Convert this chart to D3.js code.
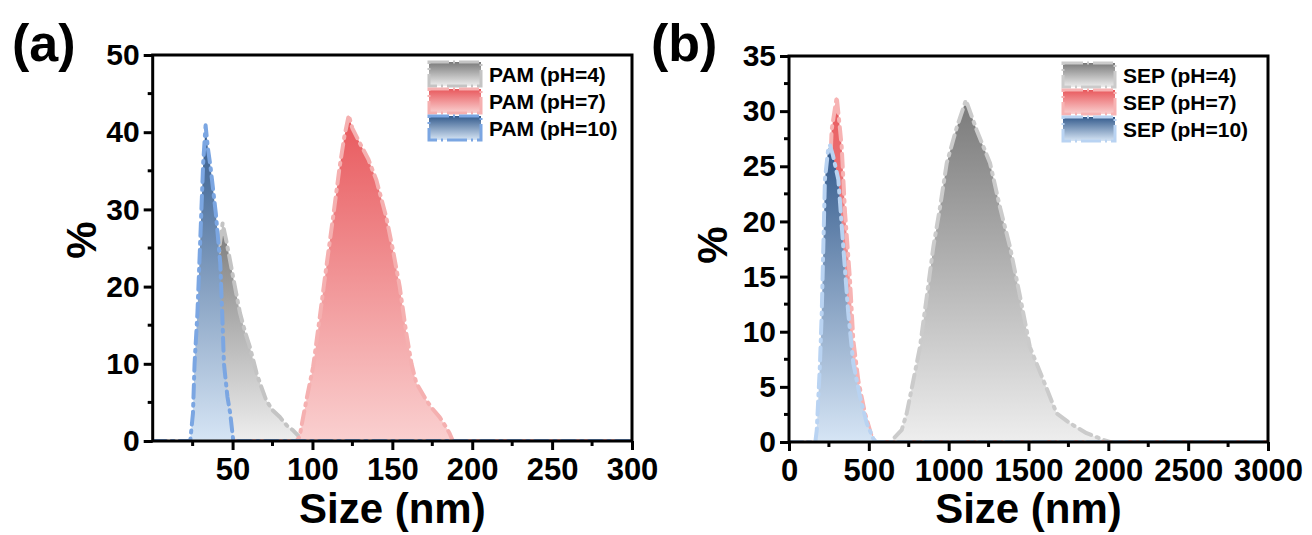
<!DOCTYPE html>
<html><head><meta charset="utf-8">
<script src="https://cdn.jsdelivr.net/npm/d3@7"></script>
<style>
html,body{margin:0;padding:0;background:#fff;}
text{font-family:"Liberation Sans",Arial,sans-serif;font-weight:bold;fill:#000;}
</style>
</head><body>
<svg id="c" width="1312" height="535"></svg>
<script>
// ---------- DATA ----------
const panelLabels = ["(a)", "(b)"];
const xTitle = "Size (nm)";
const yTitle = "%";

// Panel (a) PAM
const pamLegend = ["PAM (pH=4)", "PAM (pH=7)", "PAM (pH=10)"];
const pamXTicks = [50, 100, 150, 200, 250, 300];
const pamYTicks = [0, 10, 20, 30, 40, 50];
const pam4Size = [0, 28, 31, 34, 37, 40, 42, 43.75, 46, 48.4, 51, 54.6, 58, 60.8, 65, 68, 71, 75, 79.6, 84, 87.7, 92, 95, 300];
const pam4Pct  = [0, 0, 2, 7, 14, 21, 25.5, 28.2, 26, 23.4, 20.5, 16.6, 14, 12.2, 8.8, 7, 5.3, 4, 3.1, 2, 1.4, 0.5, 0, 0];
const pam7Size = [0, 90, 92, 93.1, 96.2, 100.4, 104.6, 108.7, 112.9, 117, 120, 122.7, 125, 129.6, 135, 140, 146.2, 150.4, 154.6, 158.7, 162, 165, 171.2, 175, 179.6, 183, 185.8, 187.9, 300];
const pam7Pct  = [0, 0, 0.6, 1.9, 5.3, 9.6, 16.1, 22.6, 29, 35.5, 39.5, 42.2, 40.5, 38.6, 36.5, 33.8, 29, 24.7, 20, 14, 10, 7.5, 5.3, 4.2, 3.1, 2, 1, 0, 0];
const pam10Size = [0, 23.5, 25.2, 26.2, 28, 29.2, 30.4, 31.6, 33.1, 34.5, 36.2, 39.5, 42.3, 43.5, 44.6, 46.8, 48.5, 50.4, 52, 300];
const pam10Pct  = [0, 0, 3.6, 10, 16.6, 23, 29.5, 36, 40.9, 38, 35.5, 29.5, 23, 16.6, 10, 5.7, 3.6, 0.1, 0, 0];

// Panel (b) SEP
const sepLegend = ["SEP (pH=4)", "SEP (pH=7)", "SEP (pH=10)"];
const sepXTicks = [0, 500, 1000, 1500, 2000, 2500, 3000];
const sepYTicks = [0, 5, 10, 15, 20, 25, 30, 35];
const sep4Size = [0, 640, 654, 706, 737, 779, 820, 863, 904, 946, 988, 1050, 1108, 1175, 1259, 1321, 1384, 1447, 1509, 1593, 1676, 1760, 1864, 1968, 2010, 3000];
const sep4Pct  = [0, 0, 0.3, 1.1, 2.6, 5.6, 8.6, 13.2, 17.7, 21.3, 25.3, 28.5, 31.0, 28.3, 25.3, 21.3, 17.7, 13.2, 8.6, 5.6, 2.6, 1.7, 0.8, 0.2, 0, 0];
const sep7Size = [0, 180, 195, 210, 225, 245, 267, 285, 299, 315, 330, 351, 382, 403, 434, 476, 518, 540, 3000];
const sep7Pct  = [0, 0, 2, 7, 13, 20, 28.3, 30, 31.3, 29, 26.8, 20.8, 14.7, 9.2, 5.6, 2.6, 0.5, 0, 0];
const sep10Size = [0, 165, 174, 184, 194, 205, 215, 225, 245, 256.7, 275, 309, 340, 371, 403, 445, 487, 528, 545, 3000];
const sep10Pct  = [0, 0, 1.1, 4.1, 7.1, 11.7, 17.7, 23.8, 26.5, 26.9, 26, 23.8, 17.7, 11.7, 7.1, 4.1, 1.7, 0.3, 0, 0];

// ---------- STYLES ----------
const gradColors = [
  ["#7a7a7a", "#eeeeee"],
  ["#e8585c", "#fad0d0"],
  ["#335a8c", "#d6e5f5"]
];
const outlineA = ["#c4c4c4", "#f5b0b0", "#7ba6e2"];
const outlineB = ["#cbcbcb", "#f7b3b3", "#b9d3f2"];

const svg = d3.select("#c");
const defs = svg.append("defs");

function makeGrad(id, c) {
  const g = defs.append("linearGradient").attr("id", id)
    .attr("x1", 0).attr("y1", 0).attr("x2", 0).attr("y2", 1);
  g.append("stop").attr("offset", "0%").attr("stop-color", c[0]);
  g.append("stop").attr("offset", "100%").attr("stop-color", c[1]);
}
gradColors.forEach((c, i) => makeGrad("g" + i, c));

function panel(cfg) {
  const {x0, x1, yTop, yBot, xDomain, yDomain, xTicks, yTicks, xMinor, yMinor,
         series, legend, outline, legX, legY, label, labelX, yTitleX, yTitleY} = cfg;
  const x = d3.scaleLinear().domain(xDomain).range([x0, x1]);
  const y = d3.scaleLinear().domain(yDomain).range([yBot, yTop]);
  const g = svg.append("g");
  const clipId = "clip" + label.replace(/\W/g, "");
  defs.append("clipPath").attr("id", clipId).append("rect")
    .attr("x", x0).attr("y", yTop).attr("width", x1 - x0).attr("height", yBot - yTop);

  const plot = g.append("g").attr("clip-path", `url(#${clipId})`);
  series.forEach((s, i) => {
    const pts = s.size.map((v, k) => [v, s.pct[k]]);
    const area = d3.area().x(d => x(d[0])).y0(y(0)).y1(d => y(d[1]));
    const line = d3.line().x(d => x(d[0])).y(d => y(d[1]));
    plot.append("path").attr("d", area(pts)).attr("fill", `url(#g${i})`);
    plot.append("path").attr("d", line(pts)).attr("fill", "none")
      .attr("stroke", outline[i]).attr("stroke-width", 4)
      .attr("stroke-dasharray", "13,6,2,6").attr("stroke-linecap", "round")
      .attr("stroke-linejoin", "round");
  });

  // minor ticks
  g.append("g").selectAll("line").data(xMinor).join("line")
    .attr("x1", d => x(d)).attr("x2", d => x(d)).attr("y1", yBot).attr("y2", yBot + 5)
    .attr("stroke", "#000").attr("stroke-width", 3);
  g.append("g").selectAll("line").data(yMinor).join("line")
    .attr("y1", d => y(d)).attr("y2", d => y(d)).attr("x1", x0).attr("x2", x0 - 5)
    .attr("stroke", "#000").attr("stroke-width", 3);

  // axes
  const fmt = d3.format("d");
  const ax = g.append("g").attr("transform", `translate(0,${yBot})`)
    .call(d3.axisBottom(x).tickValues(xTicks).tickFormat(fmt).tickSize(9).tickSizeOuter(0).tickPadding(6));
  const ay = g.append("g").attr("transform", `translate(${x0},0)`)
    .call(d3.axisLeft(y).tickValues(yTicks).tickFormat(fmt).tickSize(9).tickSizeOuter(0).tickPadding(4));
  [ax, ay].forEach(a => {
    a.select(".domain").remove();
    a.selectAll("line").attr("stroke", "#000").attr("stroke-width", 3);
    a.selectAll("text").style("font-family", '"Liberation Sans",Arial,sans-serif')
      .style("font-weight", "bold").attr("fill", "#000");
  });
  ax.selectAll("text").style("font-size", "31px").attr("dy", "0.78em");
  ay.selectAll("text").style("font-size", "30px");

  // frame
  g.append("rect").attr("x", x0).attr("y", yTop).attr("width", x1 - x0).attr("height", yBot - yTop)
    .attr("fill", "none").attr("stroke", "#000").attr("stroke-width", 3);

  // legend
  const lg = g.append("g");
  legend.forEach((t, i) => {
    const yy = legY + i * 27;
    lg.append("rect").attr("x", legX).attr("y", yy - 12).attr("width", 52).attr("height", 24)
      .attr("fill", `url(#g${i})`).attr("stroke", outline[i]).attr("stroke-width", 3)
      .attr("stroke-dasharray", "20,4,2,4");
    lg.append("text").attr("x", legX + 60).attr("y", yy).attr("dy", "0.36em")
      .style("font-size", "21px").text(t);
  });

  // titles
  g.append("text").attr("x", (x0 + x1) / 2).attr("y", 523).attr("text-anchor", "middle")
    .style("font-size", "42px").text(xTitle);
  g.append("text").attr("transform", `translate(${yTitleX},${yTitleY}) rotate(-90)`)
    .attr("text-anchor", "middle").style("font-size", "42px").text(yTitle);
  g.append("text").attr("x", labelX).attr("y", 61).style("font-size", "52px").text(label);
}

panel({
  x0: 152.7, x1: 632, yTop: 55, yBot: 441,
  xDomain: [0, 300], yDomain: [0, 50],
  xTicks: pamXTicks, yTicks: pamYTicks,
  xMinor: [25, 75, 125, 175, 225, 275], yMinor: [5, 15, 25, 35, 45],
  series: [{size: pam4Size, pct: pam4Pct}, {size: pam7Size, pct: pam7Pct}, {size: pam10Size, pct: pam10Pct}],
  legend: pamLegend, outline: outlineA, legX: 429, legY: 74,
  label: panelLabels[0], labelX: 12, yTitleX: 96, yTitleY: 240
});
panel({
  x0: 789, x1: 1268, yTop: 56, yBot: 442,
  xDomain: [0, 3000], yDomain: [0, 35],
  xTicks: sepXTicks, yTicks: sepYTicks,
  xMinor: [250, 750, 1250, 1750, 2250, 2750], yMinor: [2.5, 7.5, 12.5, 17.5, 22.5, 27.5, 32.5],
  series: [{size: sep4Size, pct: sep4Pct}, {size: sep7Size, pct: sep7Pct}, {size: sep10Size, pct: sep10Pct}],
  legend: sepLegend, outline: outlineB, legX: 1063, legY: 75,
  label: panelLabels[1], labelX: 651, yTitleX: 727, yTitleY: 245
});
</script>
</body></html>
